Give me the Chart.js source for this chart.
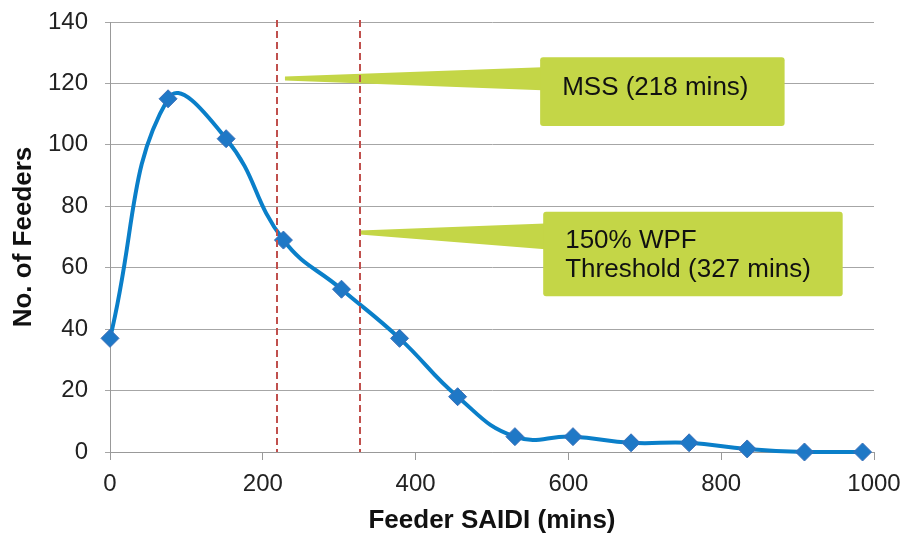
<!DOCTYPE html>
<html>
<head>
<meta charset="utf-8">
<script src="https://cdn.jsdelivr.net/npm/chart.js@4.4.1/dist/chart.umd.min.js"></script>
<style>
    html, body { margin: 0; padding: 0; background: #fff; }
    #wrap { width: 908px; height: 537px; }
</style>
</head>
<body>
<div id="wrap"><canvas id="saidiChart"></canvas></div>
<script>
// ==========================
// Data
// ==========================
const saidiMins = [0, 76, 152, 227, 303, 379, 455, 530, 606, 682, 758, 834, 909, 985];
const feederCounts = [37, 115, 102, 69, 53, 37, 18, 5, 5, 3, 3, 1, 0, 0];
const yTicks = [0, 20, 40, 60, 80, 100, 120, 140];
const xTicks = [0, 200, 400, 600, 800, 1000];

// threshold lines (mins)
const thresholdMins = [218, 327];

// callouts, in data units: tip, box corners, wedge base
const callouts = [
    { lines: ["MSS (218 mins)"], tip: [229, 121.6], box: [563, 883, 128.5, 106.1], base: [125.3, 117.8], shift: -4 },
    { lines: ["150% WPF", "Threshold (327 mins)"], tip: [327, 71.5], box: [567, 959, 78.2, 50.7], base: [74.4, 66], shift: 1 }
];

const FONT = "'Liberation Sans', Arial, sans-serif";

// ==========================
// Plugin: callouts + dashed lines
// ==========================
const calloutPlugin = {
    id: "callouts",
    afterDatasetsDraw(chart) {
        const { ctx, scales: { x, y }, chartArea } = chart;
        ctx.save();

        // callout boxes
        callouts.forEach(c => {
            const left = x.getPixelForValue(c.box[0]);
            const right = x.getPixelForValue(c.box[1]);
            const top = y.getPixelForValue(c.box[2]);
            const bottom = y.getPixelForValue(c.box[3]);
            const tx = x.getPixelForValue(c.tip[0]);
            const ty = y.getPixelForValue(c.tip[1]);

            ctx.fillStyle = "#c4d647";
            ctx.beginPath();
            ctx.moveTo(tx, ty - 2);
            ctx.lineTo(left + 2, y.getPixelForValue(c.base[0]));
            ctx.lineTo(left + 2, y.getPixelForValue(c.base[1]));
            ctx.lineTo(tx, ty + 2);
            ctx.closePath();
            ctx.fill();

            ctx.beginPath();
            ctx.roundRect(left, top, right - left, bottom - top, 3);
            ctx.fill();

            ctx.fillStyle = "#111";
            ctx.font = "26px " + FONT;
            ctx.textBaseline = "middle";
            ctx.textAlign = "left";
            const mid = (top + bottom) / 2 + c.shift;
            const lh = 29;
            c.lines.forEach((t, i) => {
                const ly = mid + (i - (c.lines.length - 1) / 2) * lh;
                ctx.fillText(t, left + 22, ly);
            });
        });

        // dashed threshold lines (on top of the callouts)
        ctx.strokeStyle = "#c0504d";
        ctx.lineWidth = 2;
        ctx.setLineDash([7, 4]);
        thresholdMins.forEach(v => {
            const px = Math.round(x.getPixelForValue(v));
            ctx.beginPath();
            ctx.moveTo(px, chartArea.top - 2);
            ctx.lineTo(px, chartArea.bottom);
            ctx.stroke();
        });

        ctx.restore();
    }
};

// ==========================
// Chart
// ==========================
const ctx = document.getElementById("saidiChart").getContext("2d");

new Chart(ctx, {
    type: "line",
    data: {
        datasets: [{
            label: "Feeders",
            data: saidiMins.map((m, i) => ({ x: m, y: feederCounts[i] })),
            borderColor: "#0a7fc9",
            borderWidth: 4,
            tension: 0.45,
            pointStyle: "rectRot",
            pointRadius: 9,
            pointHoverRadius: 9,
            pointBackgroundColor: "#1f78c6",
            pointBorderColor: "#3a6fb8",
            pointBorderWidth: 1,
            clip: false
        }]
    },
    options: {
        responsive: true,
        maintainAspectRatio: false,
        animation: false,
        layout: { padding: { top: 22, right: 34, bottom: 1, left: 8 } },
        plugins: {
            legend: { display: false },
            tooltip: { enabled: false }
        },
        scales: {
            x: {
                type: "linear",
                min: 0,
                max: 1000,
                afterBuildTicks: axis => { axis.ticks = xTicks.map(v => ({ value: v })); },
                afterFit: axis => {
                    axis.height = 84;
                    axis.paddingLeft = 0;
                    axis.paddingRight = 0;
                },
                grid: {
                    drawOnChartArea: false,
                    color: "#999",
                    tickLength: 8
                },
                border: { color: "#999", width: 1 },
                ticks: {
                    color: "#222",
                    font: { family: FONT, size: 24 },
                    padding: 10,
                    maxRotation: 0,
                    callback: v => String(v)
                },
                title: {
                    display: true,
                    text: "Feeder SAIDI (mins)",
                    color: "#111",
                    font: { family: FONT, size: 26, weight: "bold" },
                    padding: { top: 6, bottom: 0 }
                }
            },
            y: {
                min: 0,
                max: 140,
                afterBuildTicks: axis => { axis.ticks = yTicks.map(v => ({ value: v })); },
                afterFit: axis => {
                    axis.width = 102;
                    axis.paddingTop = 0;
                    axis.paddingBottom = 0;
                },
                grid: {
                    color: "#a6a6a6",
                    lineWidth: 1,
                    tickLength: 5
                },
                border: { color: "#999", width: 1 },
                ticks: {
                    color: "#222",
                    font: { family: FONT, size: 24 },
                    padding: 17,
                    callback: v => String(v)
                },
                title: {
                    display: true,
                    text: "No. of Feeders",
                    color: "#111",
                    font: { family: FONT, size: 26, weight: "bold" },
                    padding: { top: 0, bottom: 0 }
                }
            }
        }
    },
    plugins: [calloutPlugin]
});
</script>
</body>
</html>
